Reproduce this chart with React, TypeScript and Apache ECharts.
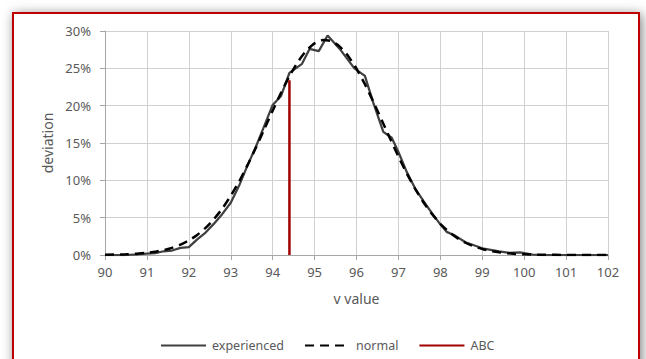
import React, { useEffect, useRef } from "react";
import * as echarts from "echarts";

const xTicks = { min: 90, max: 102, interval: 1 };
const yTicks = { min: 0, max: 30, interval: 5 };

const experiencedX = [90, 90.5, 90.8, 91, 91.2, 91.4, 91.6, 91.8, 92, 92.2, 92.4, 92.6, 92.8, 93, 93.2, 93.4, 93.6, 93.8, 94, 94.2, 94.4, 94.7, 94.88, 95.1, 95.31, 95.6, 95.95, 96.2, 96.4, 96.64, 96.84, 97, 97.2, 97.4, 97.6, 97.8, 98, 98.15, 98.35, 98.6, 98.8, 99, 99.2, 99.4, 99.65, 99.9, 100.2, 100.4, 101, 102];
const experiencedY = [0, 0, 0.1, 0.2, 0.25, 0.5, 0.6, 0.95, 1.05, 2.1, 3.0, 4.2, 5.5, 7.0, 9.3, 12.0, 14.5, 17.3, 20.1, 21.3, 24.4, 25.6, 27.6, 27.3, 29.4, 27.6, 25.0, 24.0, 20.4, 16.5, 15.7, 13.8, 11.1, 8.9, 7.2, 5.6, 4.1, 3.1, 2.6, 1.7, 1.3, 0.9, 0.7, 0.5, 0.28, 0.36, 0.05, 0, 0, 0];

const normalX = [90, 90.5, 91, 91.2, 91.4, 91.6, 91.8, 92, 92.2, 92.4, 92.6, 92.8, 93, 93.2, 93.4, 93.6, 93.8, 94, 94.2, 94.4, 94.6, 94.8, 95, 95.2, 95.4, 95.6, 95.8, 96, 96.2, 96.4, 96.6, 96.8, 97, 97.2, 97.4, 97.6, 97.8, 98, 98.2, 98.4, 98.6, 98.8, 99, 99.2, 99.4, 99.6, 99.8, 100, 100.5, 101, 102];
const normalY = [0.03, 0.09, 0.29, 0.44, 0.66, 0.96, 1.38, 1.95, 2.69, 3.63, 4.81, 6.23, 7.93, 9.86, 12.03, 14.38, 16.85, 19.33, 21.74, 23.95, 25.86, 27.35, 28.34, 28.79, 28.64, 27.91, 26.66, 24.95, 22.88, 20.55, 18.09, 15.6, 13.18, 10.92, 8.86, 7.04, 5.48, 4.18, 3.13, 2.29, 1.64, 1.16, 0.8, 0.54, 0.36, 0.23, 0.15, 0.09, 0.03, 0.01, 0];

const abcX = [94.4, 94.4];
const abcY = [0, 23.4];

const seriesNames = ["experienced", "normal", "ABC"];

const zip = (xs: number[], ys: number[]) => xs.map((x, i) => [x, ys[i]]);

export default function App() {
  const ref = useRef<HTMLDivElement>(null);
  useEffect(() => {
    if (!ref.current) return;
    const chart = echarts.init(ref.current, undefined, { renderer: "svg" });
    const font = "Noto Sans";
    const textColor = "#595959";
    chart.setOption({
      animation: false,
      backgroundColor: "#ffffff",
      graphic: {
        elements: [
          {
            type: "rect",
            z: -100,
            silent: true,
            shape: { x: 13, y: 13, width: 626, height: 370 },
            style: {
              fill: "#ffffff",
              stroke: "#C00000",
              lineWidth: 2,
              shadowBlur: 12,
              shadowColor: "rgba(0,0,0,0.5)",
              shadowOffsetX: 2,
              shadowOffsetY: 2,
            },
          },
        ],
      },
      grid: { left: 105, right: 38, top: 31, bottom: 104, containLabel: false },
      legend: {
        data: seriesNames,
        left: 155,
        top: 334,
        itemWidth: 45,
        itemHeight: 14,
        itemGap: 20,
        itemStyle: { opacity: 0 },
        textStyle: { fontFamily: font, fontSize: 12.5, color: textColor, padding: [0, 0, 0, 1] },
      },
      xAxis: {
        type: "value",
        min: xTicks.min,
        max: xTicks.max,
        interval: xTicks.interval,
        name: "v value",
        nameLocation: "middle",
        nameGap: 36,
        nameTextStyle: { fontFamily: font, fontSize: 14, color: textColor },
        axisLine: { show: true, lineStyle: { color: "#a6a6a6", width: 1 } },
        axisTick: { show: true, length: 5, lineStyle: { color: "#a6a6a6" } },
        axisLabel: { fontFamily: font, fontSize: 13, color: textColor, margin: 10 },
        splitLine: { show: true, lineStyle: { color: "#d0d0d0", width: 1 } },
      },
      yAxis: {
        type: "value",
        min: yTicks.min,
        max: yTicks.max,
        interval: yTicks.interval,
        name: "deviation",
        nameLocation: "middle",
        nameGap: 50,
        nameRotate: 90,
        nameTextStyle: { fontFamily: font, fontSize: 14, color: textColor },
        axisLine: { show: true, lineStyle: { color: "#a6a6a6", width: 1 } },
        axisTick: { show: true, length: 5, lineStyle: { color: "#a6a6a6" } },
        axisLabel: {
          fontFamily: font,
          fontSize: 13,
          color: textColor,
          margin: 14,
          formatter: (v: number) => `${v}%`,
        },
        splitLine: { show: true, lineStyle: { color: "#d0d0d0", width: 1 } },
      },
      series: [
        {
          name: seriesNames[0],
          type: "line",
          data: zip(experiencedX, experiencedY),
          symbol: "none",
          color: "#404040",
          lineStyle: { color: "#404040", width: 2.25 },
          z: 3,
        },
        {
          name: seriesNames[1],
          type: "line",
          data: zip(normalX, normalY),
          symbol: "none",
          smooth: 0.2,
          color: "#000000",
          lineStyle: { color: "#000000", width: 2.5, type: [9, 6] },
          z: 4,
        },
        {
          name: seriesNames[2],
          type: "line",
          data: zip(abcX, abcY),
          symbol: "none",
          color: "#A00000",
          lineStyle: { color: "#A00000", width: 2.5 },
          z: 5,
        },
      ],
    });
    return () => chart.dispose();
  }, []);
  return (
    <div
      ref={ref}
      style={{ position: "fixed", left: 0, top: 0, width: 646, height: 359 }}
    />
  );
}
